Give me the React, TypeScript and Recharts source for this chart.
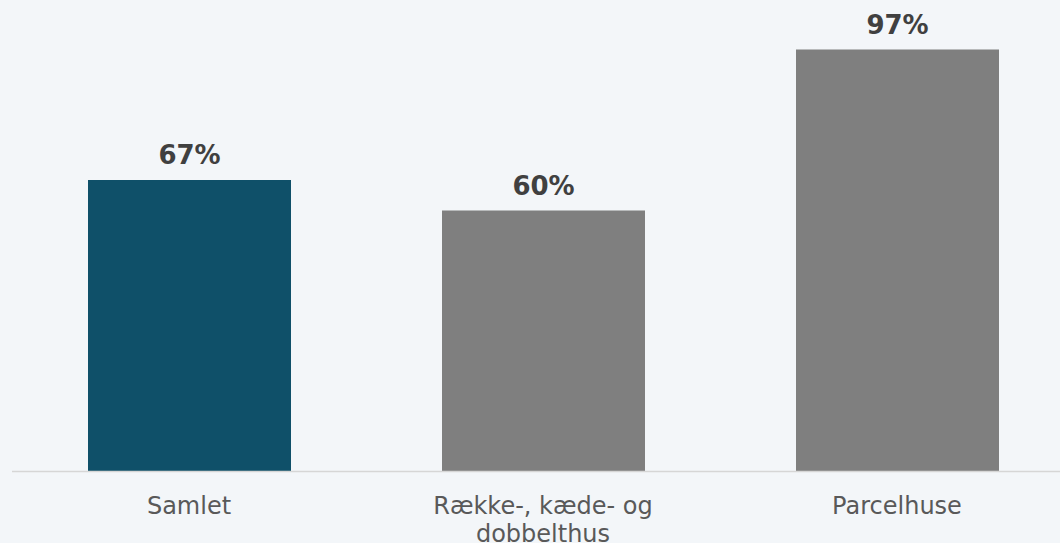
import React from "react";
import { BarChart, Bar, XAxis, YAxis, Cell, LabelList } from "recharts";

const categories = ["Samlet", "Række-, kæde- og dobbelthus", "Parcelhuse"];
const tickLines = [["Samlet"], ["Række-, kæde- og", "dobbelthus"], ["Parcelhuse"]];
const shares = [67, 60, 97];
const valueLabels = ["67%", "60%", "97%"];

const barColors = ["#0f5069", "#7f7f7f", "#7f7f7f"];
const FONT = "Verdana, 'DejaVu Sans', sans-serif";

const data = categories.map((c, i) => ({ name: c, value: shares[i], label: valueLabels[i] }));

const Tick = (props: any) => {
  const { x, y, payload } = props;
  const idx = categories.indexOf(payload.value);
  const lines = idx >= 0 ? tickLines[idx] : [String(payload.value)];
  return (
    <text
      x={x}
      y={y}
      textAnchor="middle"
      fill="#595959"
      fontSize={24}
      fontFamily={FONT}
    >
      {lines.map((l, i) => (
        <tspan key={i} x={x} dy={i === 0 ? 17 : 28}>
          {l}
        </tspan>
      ))}
    </text>
  );
};

export default function App() {
  return (
    <div
      style={{
        position: "fixed",
        left: 0,
        top: 0,
        width: 1060,
        height: 543,
        overflow: "hidden",
        background: "#f3f6f9",
      }}
    >
      <BarChart
        width={1080}
        height={543}
        data={data}
        margin={{ top: 36.5, right: 6, left: 12, bottom: 0 }}
      >
        <XAxis
          dataKey="name"
          interval={0}
          tickLine={false}
          tickSize={0}
          tickMargin={25}
          height={71.5}
          axisLine={{ stroke: "#d6d6d6", strokeWidth: 1.5 }}
          tick={<Tick />}
        />
        <YAxis hide domain={[0, 100]} />
        <Bar dataKey="value" barSize={203} isAnimationActive={false}>
          {data.map((d, i) => (
            <Cell key={i} fill={barColors[i]} />
          ))}
          <LabelList
            dataKey="label"
            position="top"
            offset={16}
            fill="#404040"
            fontSize={26}
            fontWeight="bold"
            fontFamily={FONT}
          />
        </Bar>
      </BarChart>
    </div>
  );
}
